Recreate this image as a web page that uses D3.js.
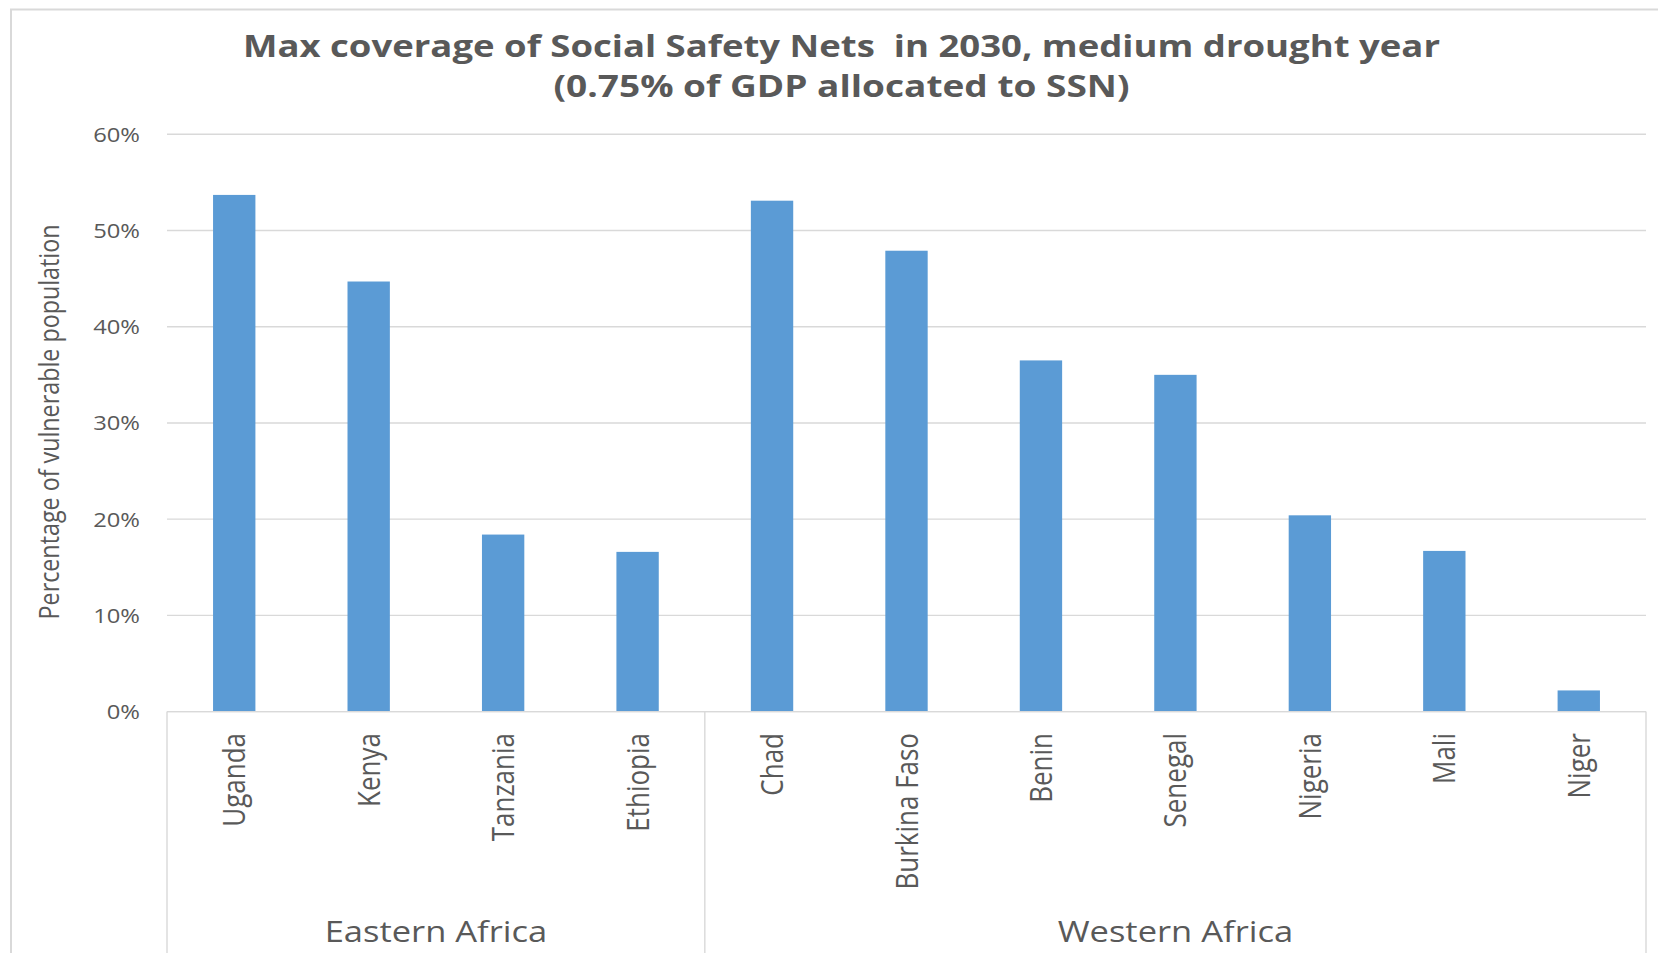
<!DOCTYPE html>
<html>
<head>
<meta charset="utf-8">
<script src="https://cdn.jsdelivr.net/npm/d3@7"></script>
<style>
  html, body { margin: 0; padding: 0; background: #ffffff; }
  svg { display: block; font-family: "Open Sans", "Liberation Sans", sans-serif; }
</style>
</head>
<body>
<svg id="chart" width="1658" height="953"></svg>
<script>
// Coverage of social safety nets by country, grouped by region
const countries = ["Uganda", "Kenya", "Tanzania", "Ethiopia", "Chad", "Burkina Faso",
                   "Benin", "Senegal", "Nigeria", "Mali", "Niger"];
const coverage = [0.537, 0.447, 0.184, 0.166, 0.531, 0.479, 0.365, 0.350, 0.204, 0.167, 0.022];
const regions = ["Eastern Africa", "Western Africa"];
const regionOf = ["Eastern Africa", "Eastern Africa", "Eastern Africa", "Eastern Africa",
                  "Western Africa", "Western Africa", "Western Africa", "Western Africa",
                  "Western Africa", "Western Africa", "Western Africa"];
const yTicks = [0, 0.1, 0.2, 0.3, 0.4, 0.5, 0.6];
const titleLines = ["Max coverage of Social Safety Nets  in 2030, medium drought year",
                    "(0.75% of GDP allocated to SSN)"];
const yAxisTitle = "Percentage of vulnerable population";

const textColor = "#595959";
const gridColor = "#D9D9D9";
const barColor = "#5B9BD5";

const svg = d3.select("#chart");

// outer chart frame
svg.append("rect")
  .attr("x", 11).attr("y", 9.5)
  .attr("width", 1700).attr("height", 1000)
  .attr("fill", "#ffffff")
  .attr("stroke", gridColor).attr("stroke-width", 2);

const plot = { left: 167, right: 1646, top: 134.3, bottom: 711.6 };

const gap = 0.685;
const x = d3.scaleBand()
  .domain(countries)
  .range([plot.left, plot.right])
  .paddingInner(gap)
  .paddingOuter(gap / 2);

const y = d3.scaleLinear()
  .domain([0, 0.6])
  .range([plot.bottom, plot.top]);

// horizontal gridlines
svg.append("g")
  .selectAll("line")
  .data(yTicks)
  .join("line")
  .attr("x1", plot.left).attr("x2", plot.right)
  .attr("y1", d => y(d)).attr("y2", d => y(d))
  .attr("stroke", gridColor).attr("stroke-width", 1.4);

// y axis tick labels
const yAxis = svg.append("g")
  .attr("transform", `translate(${plot.left},0)`)
  .call(d3.axisLeft(y).tickValues(yTicks).tickFormat(d3.format(".0%")).tickSize(0).tickPadding(0));
yAxis.select(".domain").remove();
const tickStretch = 1.22;
yAxis.selectAll("text")
  .attr("x", -27 / tickStretch)
  .attr("dy", "0.36em")
  .attr("transform", `scale(${tickStretch},1)`)
  .attr("fill", textColor)
  .style("font-family", "'Open Sans', sans-serif")
  .style("font-size", "19.5px");

// bars
svg.append("g")
  .selectAll("rect")
  .data(countries.map((c, i) => ({ c, v: coverage[i] })))
  .join("rect")
  .attr("x", d => x(d.c))
  .attr("width", x.bandwidth())
  .attr("y", d => y(d.v))
  .attr("height", d => y(0) - y(d.v))
  .attr("fill", barColor);

// category axis: baseline and region separators
const step = x.step();
const half = (step - x.bandwidth()) / 2;
const regionSpans = regions.map(r => {
  const members = countries.filter((c, i) => regionOf[i] === r);
  return {
    name: r,
    x0: x(members[0]) - half,
    x1: x(members[members.length - 1]) + x.bandwidth() + half
  };
});

const axisG = svg.append("g");
axisG.append("line")
  .attr("x1", plot.left).attr("x2", plot.right)
  .attr("y1", plot.bottom).attr("y2", plot.bottom)
  .attr("stroke", gridColor).attr("stroke-width", 1.4);

const separators = [regionSpans[0].x0, ...regionSpans.map(s => s.x1)];
axisG.selectAll("line.sep")
  .data(separators)
  .join("line")
  .attr("class", "sep")
  .attr("x1", d => d).attr("x2", d => d)
  .attr("y1", plot.bottom).attr("y2", 960)
  .attr("stroke", gridColor).attr("stroke-width", 1.4);

// country labels, rotated and widened across the reading direction
axisG.selectAll("text.country")
  .data(countries)
  .join("text")
  .attr("class", "country")
  .attr("transform", d => `translate(${x(d) + x.bandwidth() / 2 + 11},733) scale(1.2,1) rotate(-90)`)
  .attr("text-anchor", "end")
  .attr("fill", textColor)
  .style("font-size", "26px")
  .text(d => d);

// region labels
const regionStretch = 1.19;
axisG.selectAll("text.region")
  .data(regionSpans)
  .join("text")
  .attr("class", "region")
  .attr("transform", d => `translate(${(d.x0 + d.x1) / 2},942) scale(${regionStretch},1)`)
  .attr("text-anchor", "middle")
  .attr("fill", textColor)
  .style("font-size", "29px")
  .text(d => d.name);

// y axis title
svg.append("text")
  .attr("transform", "translate(59,422) scale(1.2,1) rotate(-90)")
  .attr("text-anchor", "middle")
  .attr("fill", textColor)
  .style("font-size", "23.3px")
  .text(yAxisTitle);

// chart title
const titleWidths = [1197, 576];
const titleBase = [57, 97];
svg.append("g")
  .selectAll("text")
  .data(titleLines)
  .join("text")
  .attr("x", 841.5)
  .attr("y", (d, i) => titleBase[i])
  .attr("text-anchor", "middle")
  .attr("textLength", (d, i) => titleWidths[i])
  .attr("lengthAdjust", "spacingAndGlyphs")
  .attr("fill", textColor)
  .style("white-space", "pre")
  .style("font-weight", "700")
  .style("font-size", "30px")
  .text(d => d);
</script>
</body>
</html>
